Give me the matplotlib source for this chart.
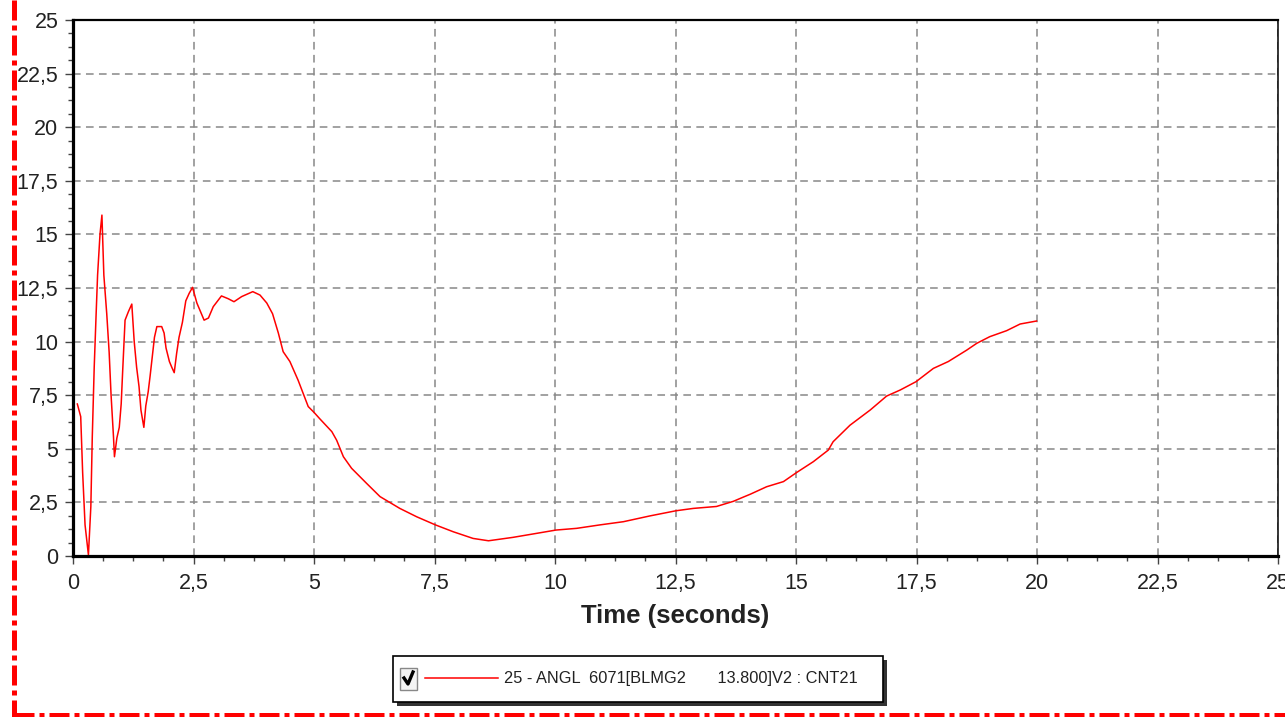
import numpy as np
import matplotlib
matplotlib.use("Agg")
import matplotlib.pyplot as plt
from matplotlib.patches import Rectangle
from matplotlib.lines import Line2D
from matplotlib.ticker import MultipleLocator, FuncFormatter

# values
time_s = [0.09, 0.16, 0.2, 0.25, 0.32, 0.37, 0.4, 0.44, 0.48, 0.51, 0.56, 0.6,
          0.64, 0.7, 0.75, 0.79, 0.84, 0.86, 0.91, 0.96, 1.0, 1.03, 1.08, 1.15,
          1.22, 1.27, 1.32, 1.37, 1.41, 1.47, 1.51, 1.56, 1.6, 1.65, 1.69, 1.74,
          1.84, 1.89, 1.93, 2.0, 2.05, 2.1, 2.15, 2.2, 2.27, 2.34, 2.41, 2.48,
          2.57, 2.72, 2.81, 2.91, 3.08, 3.22, 3.34, 3.5, 3.73, 3.88, 4.02, 4.14,
          4.26, 4.36, 4.5, 4.67, 4.88, 5.0, 5.12, 5.37, 5.47, 5.61, 5.78, 6.09,
          6.37, 6.78, 7.13, 7.52, 7.89, 8.3, 8.62, 9.13, 9.55, 10.02, 10.45,
          10.93, 11.42, 11.97, 12.51, 12.87, 13.35, 13.7, 13.91, 14.05, 14.39,
          14.74, 15.01, 15.36, 15.67, 15.77, 16.12, 16.54, 16.88, 17.16, 17.49,
          17.85, 18.16, 18.54, 18.75, 19.02, 19.37, 19.65, 19.99]
angle = [7.09, 6.5, 3.9, 1.45, 0.05, 2.3, 5.56, 8.8, 11.3, 13.1, 15.0, 15.9,
         13.1, 11.3, 9.5, 7.5, 5.56, 4.63, 5.5, 6.0, 7.1, 8.6, 11.0, 11.4,
         11.75, 10.0, 8.8, 7.9, 6.8, 6.0, 7.0, 7.66, 8.4, 9.4, 10.2, 10.7,
         10.7, 10.4, 9.7, 9.07, 8.8, 8.55, 9.45, 10.2, 10.9, 11.9, 12.25, 12.53,
         11.8, 11.0, 11.1, 11.63, 12.13, 12.0, 11.86, 12.1, 12.33, 12.17, 11.8, 11.3,
         10.4, 9.53, 9.07, 8.2, 6.97, 6.7, 6.4, 5.8, 5.4, 4.63, 4.09, 3.39,
         2.77, 2.22, 1.83, 1.45, 1.13, 0.82, 0.71, 0.87, 1.03, 1.21, 1.29,
         1.45, 1.6, 1.87, 2.11, 2.22, 2.31, 2.55, 2.75, 2.88, 3.23,
         3.47, 3.89, 4.4, 4.94, 5.33, 6.1, 6.81, 7.46, 7.74, 8.13,
         8.75, 9.07, 9.6, 9.92, 10.23, 10.51, 10.82, 10.96]
series_name = "25 - ANGL  6071[BLMG2       13.800]V2 : CNT21"
x_label = "Time (seconds)"

W, H = 1285, 717
plt.rcParams['font.family'] = ['Liberation Sans', 'DejaVu Sans']

fig = plt.figure(figsize=(W / 100, H / 100), dpi=100)
fig.patch.set_facecolor('white')

def fpos(x, y):
    # pixel (top-left origin) -> figure fraction
    return x / W, 1 - y / H

ax = fig.add_axes([73 / W, (H - 556) / H, (1278 - 73) / W, (556 - 20) / H])
ax.plot(time_s, angle, color='#ff0000', lw=1.1)

ax.set_xlim(0, 25)
ax.set_ylim(0, 25)
ax.xaxis.set_major_locator(MultipleLocator(2.5))
ax.yaxis.set_major_locator(MultipleLocator(2.5))
ax.xaxis.set_minor_locator(MultipleLocator(0.625))
ax.yaxis.set_minor_locator(MultipleLocator(0.625))
comma = FuncFormatter(lambda v, p: ('%g' % v).replace('.', ','))
ax.xaxis.set_major_formatter(comma)
ax.yaxis.set_major_formatter(comma)

ax.tick_params(which='major', length=5.5, width=1, color='#444444',
               labelsize=15.5, labelcolor='#222222')
ax.tick_params(which='minor', length=3.5, width=1, color='#444444')
ax.tick_params(axis='x', which='major', pad=7)
ax.tick_params(axis='y', which='major', pad=5)

ax.grid(True, which='major', color='#888888', linestyle=(0, (5, 3.5)), lw=1.1)
ax.set_axisbelow(True)

ax.spines['left'].set_linewidth(2.3)
ax.spines['bottom'].set_linewidth(2.3)
ax.spines['top'].set_linewidth(1.6)
ax.spines['right'].set_linewidth(1.1)
for s in ax.spines.values():
    s.set_color('black')

ax.set_xlabel(x_label, fontsize=18.5, fontweight='bold', color='#222222', labelpad=7)

# dash-dot red frame on the left and bottom
fig.add_artist(Line2D([fpos(14, 0)[0], fpos(14, 717)[0]], [1, 0],
                      color='#ff0000', lw=3.6, linestyle=(0, (4, 1, 1, 1)),
                      transform=fig.transFigure))
fig.add_artist(Line2D([fpos(14, 0)[0], 1], [fpos(0, 715)[1]] * 2,
                      color='#ff0000', lw=3.6, linestyle=(0, (4, 1, 1, 1)),
                      transform=fig.transFigure))

# legend box
x0, y0, x1, y1 = 393, 656, 883, 702
sx, sy = fpos(x0 + 4, y1 + 4)
fig.add_artist(Rectangle((sx, sy), (x1 - x0) / W, (y1 - y0) / H,
                         transform=fig.transFigure, facecolor='#333333', edgecolor='none'))
bx, by = fpos(x0, y1)
fig.add_artist(Rectangle((bx, by), (x1 - x0) / W, (y1 - y0) / H,
                         transform=fig.transFigure, facecolor='white', edgecolor='black', lw=1.2))
cx, cy = fpos(400, 690)
fig.add_artist(Rectangle((cx, cy), 17 / W, 22 / H, transform=fig.transFigure,
                         facecolor='#f4f4f4', edgecolor='#888888', lw=1))
chk = [fpos(404, 678), fpos(408, 684), fpos(413, 672)]
fig.add_artist(Line2D([p[0] for p in chk], [p[1] for p in chk], color='black', lw=2.4,
                      transform=fig.transFigure))
l0, l1 = fpos(425, 678), fpos(498, 678)
fig.add_artist(Line2D([l0[0], l1[0]], [l0[1], l1[1]], color='#ff0000', lw=1.1,
                      transform=fig.transFigure))
tx, ty = fpos(504, 678)
fig.text(tx, ty, series_name, fontsize=11.8, color='#222222', va='center', ha='left')

fig.savefig('out.png', dpi=100)
